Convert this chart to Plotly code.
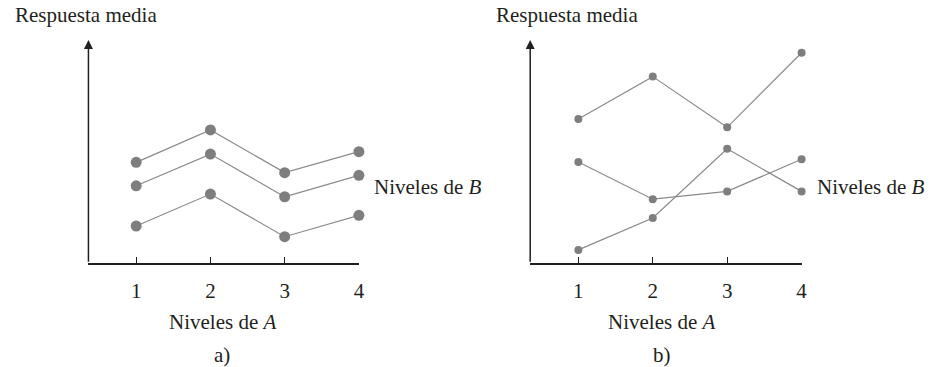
import plotly.graph_objects as go

# niveles del factor A
niveles_a = [1, 2, 3, 4]

# a) sin interaccion: tres niveles de B paralelos
a_b1 = [4.52, 5.97, 4.06, 5.00]
a_b2 = [3.47, 4.89, 2.98, 3.94]
a_b3 = [1.67, 3.10, 1.19, 2.15]

# b) con interaccion
b_b1 = [6.46, 8.36, 6.09, 9.43]
b_b2 = [4.54, 2.87, 3.22, 4.66]
b_b3 = [0.60, 2.03, 5.13, 3.22]

FONT = "Liberation Serif, Times New Roman, serif"
GRIS = "#7e7e80"
LINEA = "#8a8a8c"
NEGRO = "#231f20"

fig = go.Figure()

for serie in [a_b1, a_b2, a_b3]:
    fig.add_trace(go.Scatter(
        x=niveles_a, y=serie, xaxis="x", yaxis="y", mode="lines+markers",
        line=dict(color=LINEA, width=1.2), cliponaxis=False,
        marker=dict(color=GRIS, size=11), showlegend=False,
    ))
for serie in [b_b1, b_b2, b_b3]:
    fig.add_trace(go.Scatter(
        x=niveles_a, y=serie, xaxis="x2", yaxis="y2", mode="lines+markers",
        line=dict(color=LINEA, width=1.2), cliponaxis=False,
        marker=dict(color=GRIS, size=8), showlegend=False,
    ))

xa = dict(
    tickvals=niveles_a, ticks="inside", ticklen=7, tickwidth=1.3, tickcolor=NEGRO,
    showline=True, linecolor=NEGRO, linewidth=1.5, showgrid=False, zeroline=False,
    tickfont=dict(family=FONT, size=21, color=NEGRO), ticklabelstandoff=8,
    fixedrange=True, layer="below traces",
)
ya = dict(range=[0, 10], showline=False, showgrid=False, zeroline=False,
          showticklabels=False, ticks="", fixedrange=True)

fig.update_layout(
    width=937, height=367,
    margin=dict(l=0, r=0, t=0, b=0),
    paper_bgcolor="white", plot_bgcolor="white",
    xaxis=dict(xa, domain=[0.0950, 0.3855], range=[0.357, 4], anchor="y"),
    yaxis=dict(ya, domain=[0.2826, 0.891], anchor="x"),
    xaxis2=dict(xa, domain=[0.5695, 0.8610], range=[0.353, 4], anchor="y2"),
    yaxis2=dict(ya, domain=[0.2826, 0.891], anchor="x2"),
    font=dict(family=FONT, size=21, color=NEGRO),
)

# ejes verticales con flecha
for xr, yr, x0 in [("x", "y", 0.357), ("x2", "y2", 0.353)]:
    fig.add_annotation(
        x=x0, y=10, ax=x0, ay=0, xref=xr, yref=yr, axref=xr, ayref=yr,
        text="", showarrow=True, arrowhead=2, arrowsize=1.2, arrowwidth=1.5,
        arrowcolor=NEGRO,
    )

textos = [
    ("Respuesta media", 13, 15, "left"),
    ("Respuesta media", 497, 15, "left"),
    ("Niveles de <i>B</i>", 374, 187, "left"),
    ("Niveles de <i>B</i>", 820, 187, "left"),
    ("Niveles de <i>A</i>", 224, 322, "center"),
    ("Niveles de <i>A</i>", 666, 322, "center"),
    ("a)", 223, 355, "center"),
    ("b)", 666, 355, "center"),
]
for t, px, py, anc in textos:
    fig.add_annotation(
        text=t, x=px / 937, y=1 - py / 367, xref="paper", yref="paper",
        xanchor=anc, yanchor="middle", showarrow=False,
        font=dict(family=FONT, size=21, color=NEGRO),
    )

fig.write_html(
    "out.html",
    config={"displayModeBar": False},
    post_script="document.body.style.margin='0';",
)
